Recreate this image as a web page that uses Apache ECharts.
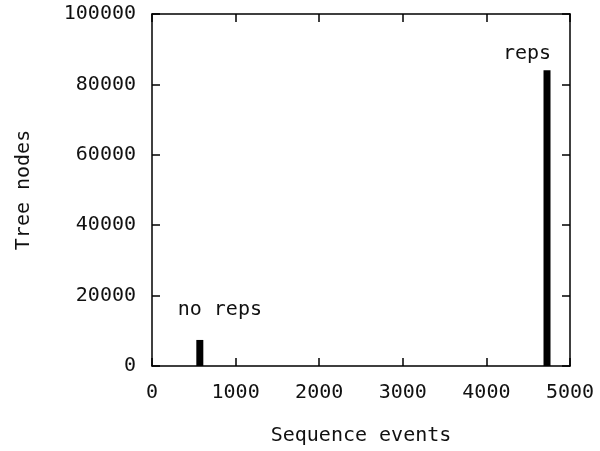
<!DOCTYPE html>
<html>
<head>
<meta charset="utf-8">
<script src="https://cdn.jsdelivr.net/npm/echarts@6/dist/echarts.min.js"></script>
<style>html,body{margin:0;padding:0;background:#fff}#c{width:600px;height:451px}</style>
</head>
<body>
<div id="c"></div>
<script>
var xValues = [572, 4725];
var yValues = [7400, 84000];
var barLabels = ['no reps', 'reps'];
var xTicks = [0, 1000, 2000, 3000, 4000, 5000];
var yTicks = [0, 20000, 40000, 60000, 80000, 100000];

var FONT = 'DejaVu Sans Mono';
var FS = 20;
var TXT = '#111';
var labelOffsets = [[20, -20], [-20, -7]];

var data = xValues.map(function (x, i) {
  return {
    name: barLabels[i],
    value: [x, yValues[i]],
    label: { offset: labelOffsets[i] }
  };
});

var plain = function (v) { return String(v); };

var axisCommon = {
  axisLine: { show: true, onZero: false, lineStyle: { color: '#000', width: 1.5 } },
  axisTick: { show: true, inside: true, length: 8, lineStyle: { color: '#000', width: 1.5 } },
  splitLine: { show: false }
};

var chart = echarts.init(document.getElementById('c'), null, { renderer: 'canvas' });
chart.setOption({
  animation: false,
  backgroundColor: '#fff',
  grid: { left: 152, right: 30, top: 14, bottom: 84 },
  xAxis: [
    Object.assign({
      type: 'value', position: 'bottom', min: xTicks[0], max: xTicks[xTicks.length - 1], interval: 1000,
      name: 'Sequence events', nameLocation: 'middle', nameGap: 60,
      nameTextStyle: { fontFamily: FONT, fontSize: FS, color: TXT },
      axisLabel: { margin: 17, fontFamily: FONT, fontSize: FS, color: TXT, formatter: plain }
    }, axisCommon),
    Object.assign({
      type: 'value', position: 'top', min: xTicks[0], max: xTicks[xTicks.length - 1], interval: 1000,
      axisLabel: { show: false }
    }, axisCommon)
  ],
  yAxis: [
    Object.assign({
      type: 'value', position: 'left', min: yTicks[0], max: yTicks[yTicks.length - 1], interval: 20000,
      name: 'Tree nodes', nameLocation: 'middle', nameGap: 118, nameRotate: 90,
      nameTextStyle: { fontFamily: FONT, fontSize: FS, color: TXT },
      axisLabel: { margin: 16, fontFamily: FONT, fontSize: FS, color: TXT, formatter: plain }
    }, axisCommon),
    Object.assign({
      type: 'value', position: 'right', min: yTicks[0], max: yTicks[yTicks.length - 1], interval: 20000,
      axisLabel: { show: false }
    }, axisCommon)
  ],
  series: [{
    type: 'bar',
    xAxisIndex: 0,
    yAxisIndex: 0,
    barWidth: 7,
    itemStyle: { color: '#000' },
    label: {
      show: true,
      position: 'top',
      distance: 0,
      formatter: '{b}',
      fontFamily: FONT,
      fontSize: FS,
      color: TXT
    },
    data: data
  }]
});
</script>
</body>
</html>
